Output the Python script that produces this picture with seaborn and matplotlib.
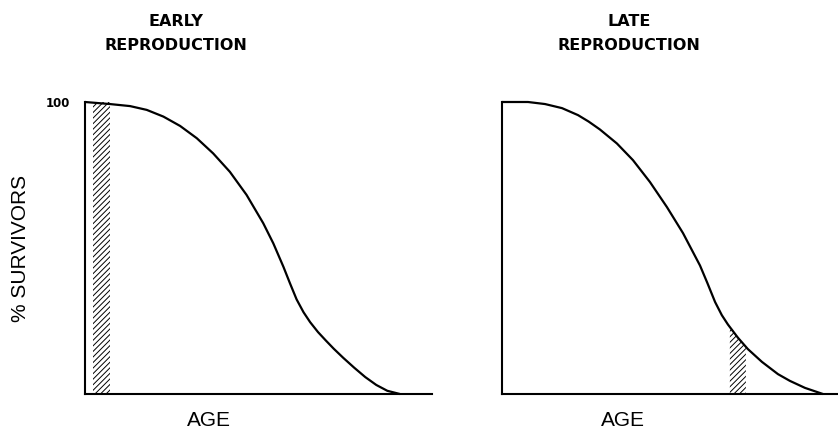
import numpy as np
import pandas as pd
import seaborn as sns
import matplotlib.pyplot as plt

# survivorship curves (age in % of max life span, % survivors)
early_age = [0, 7.9, 14.3, 19.6, 24.9, 30.2, 35.5, 40.7, 46.0, 51.3, 56.6, 59.8,
             63.0, 65.1, 67.2, 69.4, 71.5, 74.0, 76.5, 79.0, 82.0, 85.5, 89.0,
             92.5, 96.0, 100]
early_surv = [100, 99.3, 98.6, 97.3, 95.0, 91.8, 87.6, 82.4, 76.1, 68.2, 58.5, 51.6,
              43.6, 37.9, 32.4, 28.0, 24.6, 21.2, 18.3, 15.5, 12.4, 9.0, 5.8,
              3.1, 1.1, 0]

late_age = [0, 8.1, 13.4, 18.7, 23.7, 27.0, 30.5, 35.8, 40.8, 46.1, 51.4, 56.4,
            61.7, 64.0, 66.4, 68.5, 70.4, 73.5, 76.6, 81.0, 86.0, 89.7, 94.4, 100]
late_surv = [100, 100, 99.3, 97.9, 95.5, 93.3, 90.6, 85.8, 80.1, 72.6, 64.0, 55.1,
             44.0, 38.0, 31.5, 27.0, 23.8, 19.3, 15.4, 11.0, 6.8, 4.5, 2.1, 0]

# reproduction windows (age range that is hatched)
early_window = [2.5, 7.9]
late_window = [71.0, 76.0]

titles = [["EARLY", "REPRODUCTION"], ["LATE", "REPRODUCTION"]]

sns.set_style("white")
plt.rcParams["hatch.linewidth"] = 0.7
plt.rcParams["text.color"] = "black"

fig = plt.figure(figsize=(8.38, 4.33), dpi=100)
ax1 = fig.add_axes([85 / 838, 39 / 433, 347 / 838, 292 / 433])
ax2 = fig.add_axes([502 / 838, 39 / 433, 336 / 838, 292 / 433])

early = pd.DataFrame({"age": early_age, "surv": early_surv})
late = pd.DataFrame({"age": late_age, "surv": late_surv})

for ax, df, xmax in [(ax1, early, 110.2), (ax2, late, 104.7)]:
    sns.lineplot(data=df, x="age", y="surv", ax=ax, color="black",
                 linewidth=1.6, sort=False, clip_on=False)
    ax.set_xlim(0, xmax)
    ax.set_ylim(0, 100)
    ax.set_xlabel("")
    ax.set_ylabel("")
    ax.set_xticks([])
    for s in ["top", "right"]:
        ax.spines[s].set_visible(False)
    for s in ["left", "bottom"]:
        ax.spines[s].set_color("black")
        ax.spines[s].set_linewidth(1.5)

# hatched windows
ax1.fill_between(early_window, 0, 100, facecolor="none", edgecolor="black",
                 hatch="//////", linewidth=0)
xs = np.array(late_window)
ax2.fill_between(xs, 0, np.interp(xs, late_age, late_surv), facecolor="none",
                 edgecolor="black", hatch="//////", linewidth=0)

ax1.set_yticks([100])
ax1.set_yticklabels(["100"], fontsize=8.5, fontweight="bold", color="black")
ax1.tick_params(axis="y", length=0, pad=11)
ax2.set_yticks([])

# titles
for cx, (l1, l2) in zip([176 / 838, 629 / 838], titles):
    fig.text(cx, 1 - 21 / 433, l1, ha="center", va="center",
             fontsize=11.5, fontweight="bold")
    fig.text(cx, 1 - 46 / 433, l2, ha="center", va="center",
             fontsize=11.5, fontweight="bold")

fig.text(209 / 838, 1 - 421 / 433, "AGE", ha="center", va="center",
         fontsize=15, family="Liberation Sans")
fig.text(623 / 838, 1 - 421 / 433, "AGE", ha="center", va="center",
         fontsize=15, family="Liberation Sans")
fig.text(20 / 838, 1 - 248 / 433, "% SURVIVORS", ha="center", va="center",
         rotation=90, fontsize=15, family="Liberation Sans")

fig.savefig("out.png", dpi=100)
